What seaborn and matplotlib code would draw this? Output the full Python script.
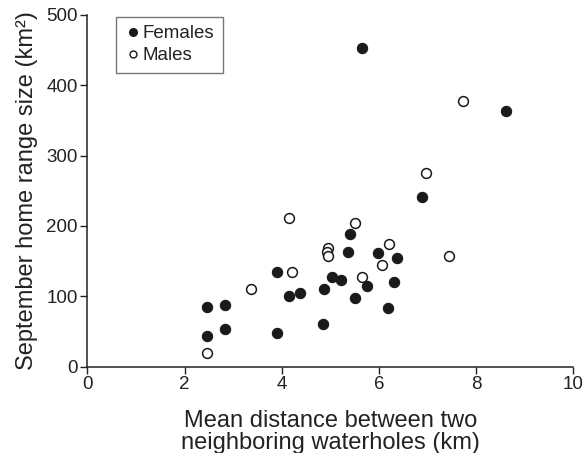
import matplotlib
matplotlib.use("Agg")
import matplotlib.pyplot as plt
import seaborn as sns
import pandas as pd
from matplotlib.lines import Line2D

female_x = [2.47, 2.47, 2.83, 2.83, 3.91, 3.91, 4.16, 4.38, 4.86, 4.84, 5.04, 5.22,
            5.36, 5.40, 5.51, 5.75, 5.99, 6.18, 6.31, 6.38, 6.89, 5.66, 8.61]
female_y = [85, 43, 88, 53, 135, 48, 101, 104, 111, 60, 127, 123,
            163, 189, 97, 114, 161, 83, 121, 154, 241, 453, 363]
male_x = [2.47, 3.37, 4.14, 4.21, 4.95, 4.93, 4.95, 5.51, 5.66, 6.06, 6.20, 7.45, 7.74, 6.97]
male_y = [20, 111, 212, 134, 169, 163, 157, 204, 127, 144, 174, 157, 378, 275]

df = pd.concat([
    pd.DataFrame({"x": female_x, "y": female_y, "sex": "Females"}),
    pd.DataFrame({"x": male_x, "y": male_y, "sex": "Males"}),
])

sns.set_style("ticks")
plt.rcParams["font.family"] = ["Liberation Sans", "DejaVu Sans"]

fig = plt.figure(figsize=(5.88, 4.53), dpi=100)
ax = fig.add_axes([0.1485, 0.1907, 0.8265, 0.7763])

sns.scatterplot(data=df[df.sex == "Females"], x="x", y="y", ax=ax, s=55,
                color="#1a1a1a", edgecolor="#1a1a1a", linewidth=0.8, legend=False)
sns.scatterplot(data=df[df.sex == "Males"], x="x", y="y", ax=ax, s=50,
                facecolor="white", edgecolor="#1a1a1a", linewidth=1.1, legend=False)

ax.set_xlim(0, 10)
ax.set_ylim(0, 500)
ax.set_xticks([0, 2, 4, 6, 8, 10])
ax.set_yticks([0, 100, 200, 300, 400, 500])
ax.tick_params(axis="both", labelsize=13.5, length=5, width=1, color="#222222", labelcolor="#222222", direction="out", pad=2)
for s in ["top", "right"]:
    ax.spines[s].set_visible(False)
for s in ["left", "bottom"]:
    ax.spines[s].set_linewidth(1.1)
    ax.spines[s].set_color("#222222")

ax.set_xlabel("Mean distance between two\nneighboring waterholes (km)", fontsize=17,
              color="#222222", linespacing=0.98, labelpad=12)
ax.set_ylabel("September home range size (km²)", fontsize=17, color="#222222", labelpad=6)

handles = [
    Line2D([], [], marker="o", linestyle="none", markersize=5.5, markerfacecolor="#1a1a1a",
           markeredgecolor="#1a1a1a", label="Females"),
    Line2D([], [], marker="o", linestyle="none", markersize=5, markerfacecolor="white",
           markeredgecolor="#1a1a1a", markeredgewidth=1, label="Males"),
]
leg = ax.legend(handles=handles, loc="upper left", bbox_to_anchor=(0.058, 0.995), fontsize=13.5,
                frameon=True, fancybox=False, edgecolor="#555555", handletextpad=0.0,
                handlelength=1.0, borderpad=0.45, labelspacing=0.25, borderaxespad=0)
leg.get_frame().set_linewidth(1.0)
for t in leg.get_texts():
    t.set_color("#222222")

fig.savefig("out.png", dpi=100)
